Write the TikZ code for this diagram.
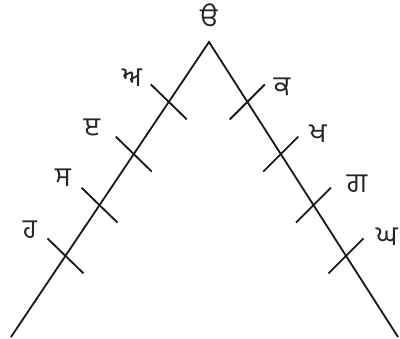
\documentclass[tikz,border=0pt]{standalone}
\usepackage{fontspec}
\newfontfamily\gurmukhi[Script=Gurmukhi]{Hind Jalandhar}
\usetikzlibrary{calc}

\begin{document}
\begin{tikzpicture}[
  x=0.025cm, y=-0.025cm,
  stroke/.style={line width=1.3pt, draw=black!90},
  tickmark/.style={line width=1.3pt, draw=black!90},
  letter/.style={font=\gurmukhi\fontsize{19.5}{22}\selectfont, inner sep=0pt, text=black!85}
]
\useasboundingbox (0,0) rectangle (400,339);

% the two arms
\coordinate (apex) at (209,42);
\coordinate (lend) at (11,337);
\coordinate (rend) at (398,337);
\draw[stroke, line join=miter] (lend) -- (apex) -- (rend);

% ticks on both arms
\foreach \f [count=\i] in {0.203,0.380,0.553,0.725} {
  \coordinate (l\i) at ($(apex)!\f!(lend)$);
  \coordinate (r\i) at ($(apex)!\f!(rend)$);
  \draw[tickmark] ($(l\i)+(-18,-17.5)$) -- ($(l\i)+(18,17.5)$);
  \draw[tickmark] ($(r\i)+(-17.5,17.5)$) -- ($(r\i)+(17.5,-17.5)$);
}

% letters
\node[letter] (top) at (209,16) {ੳ};
\node[letter] (la) at (132,78) {ਅ};
\node[letter] (le) at (92,128) {ੲ};
\node[letter] (ls) at (63,178) {ਸ};
\node[letter] (lh) at (30,230) {ਹ};
\node[letter] (rk) at (282,87) {ਕ};
\node[letter] (rkh) at (318,134) {ਖ};
\node[letter] (rg) at (357,184) {ਗ};
\node[letter] (rgh) at (387,237) {ਘ};

\end{tikzpicture}
\end{document}
